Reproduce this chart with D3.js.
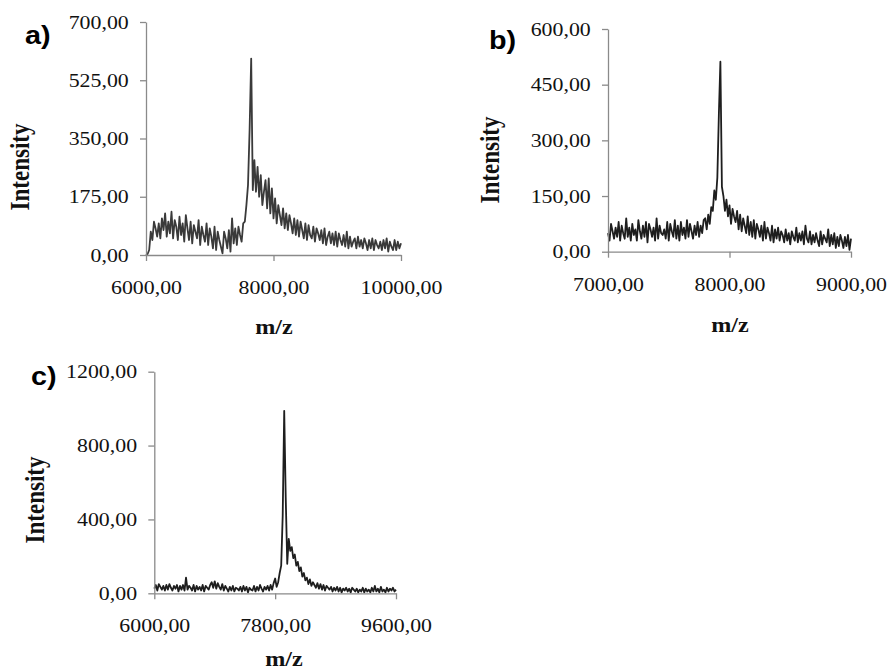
<!DOCTYPE html>
<html>
<head>
<meta charset="utf-8">
<script src="https://cdn.jsdelivr.net/npm/d3@7"></script>
<style>
  body { margin: 0; background: #fff; }
  svg { display: block; }
</style>
</head>
<body>
<div id="chart"></div>
<script>
// ---- data ----

// a) 6000 - 10000 m/z, sampled every 25
const mzStartA = 6000, mzStepA = 25;
const intensityA = [
  0, 3, 15, 70, 45, 100, 80, 55,
  95, 50, 110, 75, 125, 55, 100, 65,
  130, 50, 105, 85, 45, 115, 60, 95,
  40, 120, 80, 45, 100, 35, 90, 70,
  50, 105, 30, 85, 60, 40, 95, 30,
  80, 55, 20, 85, 15, 70, 45, 25,
  5, 70, 50, 20, 75, 10, 110, 35,
  80, 30, 85, 60, 40, 95, 100, 150,
  210, 375, 590, 195, 285, 190, 265, 175,
  240, 150, 190, 225, 140, 230, 125, 200,
  110, 170, 95, 150, 120, 90, 140, 80,
  125, 75, 120, 95, 65, 110, 60, 105,
  55, 100, 75, 50, 95, 45, 90, 60,
  50, 85, 40, 80, 65, 45, 75, 35,
  80, 30, 55, 70, 35, 65, 30, 70,
  25, 65, 45, 30, 60, 25, 70, 20,
  55, 25, 40, 50, 20, 55, 25, 45,
  20, 50, 35, 15, 45, 20, 50, 15,
  45, 30, 20, 40, 15, 45, 20, 50,
  10, 40, 25, 15, 45, 15, 40, 20,
  35
];
const xTicksA = [6000, 8000, 10000];
const yTicksA = [0, 175, 350, 525, 700];

// b) 7000 - 9000 m/z, sampled every 12.5
const mzStartB = 7000, mzStepB = 12.5;
const intensityB = [
  50, 30, 75, 55, 35, 65, 40, 80,
  30, 70, 50, 35, 90, 40, 65, 30,
  75, 45, 60, 30, 85, 55, 35, 70,
  40, 80, 25, 75, 60, 40, 65, 30,
  90, 35, 70, 50, 45, 60, 35, 80,
  30, 75, 55, 40, 85, 35, 70, 30,
  80, 45, 65, 35, 85, 40, 75, 55,
  35, 70, 45, 80, 40, 70, 50, 85,
  90, 60, 100, 75, 120, 110, 165, 140,
  200, 370, 512, 175, 150, 110, 140, 95,
  125, 75, 115, 95, 80, 110, 60, 100,
  55, 90, 70, 50, 95, 45, 80, 40,
  85, 35, 75, 60, 40, 70, 30, 80,
  35, 65, 50, 30, 70, 25, 60, 35,
  65, 30, 55, 45, 25, 60, 30, 50,
  20, 55, 40, 30, 65, 25, 50, 30,
  55, 20, 70, 35, 25, 55, 20, 45,
  25, 50, 30, 15, 55, 20, 45, 35,
  25, 60, 15, 45, 20, 50, 10, 40,
  15, 45, 30, 10, 40, 15, 45, 5,
  35
];
const xTicksB = [7000, 8000, 9000];
const yTicksB = [0, 150, 300, 450, 600];

// c) 6000 - 9600 m/z, sampled every 22.5
const mzStartC = 6000, mzStepC = 22.5;
const intensityC = [
  25, 45, 15, 50, 35, 20, 40, 15,
  45, 20, 50, 30, 15, 40, 25, 45,
  10, 40, 20, 45, 15, 85, 20, 40,
  30, 15, 45, 10, 40, 20, 35, 15,
  45, 10, 40, 30, 20, 45, 60, 30,
  65, 25, 55, 35, 20, 50, 15, 40,
  25, 10, 35, 15, 40, 10, 30, 25,
  15, 35, 10, 40, 15, 35, 5, 30,
  20, 15, 40, 10, 35, 15, 45, 25,
  10, 35, 20, 40, 15, 45, 20, 55,
  80, 35, 60, 110, 150, 420, 988, 520,
  160, 295, 230, 250, 190, 210, 150, 170,
  120, 140, 90, 110, 70, 85, 50, 75,
  40, 60, 45, 30, 55, 25, 50, 20,
  45, 15, 40, 30, 20, 35, 10, 30,
  15, 35, 10, 30, 5, 25, 15, 30,
  10, 25, 5, 30, 20, 10, 25, 5,
  20, 10, 30, 5, 25, 10, 20, 5,
  30, 10, 40, 10, 25, 5, 35, 10,
  20, 5, 30, 10, 25, 15, 30, 10,
  20
];
const xTicksC = [6000, 7800, 9600];
const yTicksC = [0, 400, 800, 1200];

// ---- layout ----
const WIDTH = 891, HEIGHT = 671;
const STRETCH = 1.15; // the source figure is a bit wider than tall
const SERIF = "'Liberation Serif', 'Times New Roman', serif";
const SANS = "'Liberation Sans', Arial, sans-serif";

const panels = [
  { tag: "a)", start: mzStartA, step: mzStepA, values: intensityA, xTicks: xTicksA, yTicks: yTicksA,
    left: 146, right: 401, top: 22, bottom: 255, color: "#3a3a3a",
    tagX: 25, tagY: 43.5, yTitleX: 29, yTitleY: 167, xTitleX: 274, xTitleY: 334 },
  { tag: "b)", start: mzStartB, step: mzStepB, values: intensityB, xTicks: xTicksB, yTicks: yTicksB,
    left: 608, right: 851, top: 29, bottom: 251.7, color: "#1e1e1e",
    tagX: 489, tagY: 48.5, yTitleX: 499, yTitleY: 160, xTitleX: 730, xTitleY: 332 },
  { tag: "c)", start: mzStartC, step: mzStepC, values: intensityC, xTicks: xTicksC, yTicks: yTicksC,
    left: 154.3, right: 396, top: 371.7, bottom: 593.3, color: "#1e1e1e",
    tagX: 31, tagY: 384.5, yTitleX: 44, yTitleY: 500, xTitleX: 284, xTitleY: 666 }
];

const fmt = d3.formatLocale({ decimal: ",", thousands: ".", grouping: [3], currency: ["", ""] }).format(".2f");

let svg = d3.select("#chart").append("svg")
  .attr("width", WIDTH)
  .attr("height", HEIGHT);

svg.append("rect")
  .attr("width", WIDTH)
  .attr("height", HEIGHT)
  .attr("fill", "#fff");

panels.forEach(p => drawPanel(p));

function drawPanel(p) {
  let x = d3.scaleLinear()
    .domain([p.xTicks[0], p.xTicks[p.xTicks.length - 1]])
    .range([p.left, p.right]);

  let y = d3.scaleLinear()
    .domain([0, p.yTicks[p.yTicks.length - 1]])
    .range([p.bottom, p.top]);

  let points = p.values.map((v, i) => [p.start + i * p.step, v]);

  let g = svg.append("g");

  // spectrum trace
  let line = d3.line()
    .x(d => x(d[0]))
    .y(d => y(d[1]));

  g.append("path")
    .datum(points)
    .attr("d", line)
    .attr("fill", "none")
    .attr("stroke", p.color)
    .attr("stroke-width", 1.8)
    .attr("stroke-linejoin", "round");

  // axes
  let yAxis = g.append("g")
    .attr("transform", `translate(${p.left},0)`)
    .call(d3.axisLeft(y).tickValues(p.yTicks).tickFormat(fmt).tickSize(6).tickSizeOuter(0).tickPadding(9));

  let xAxis = g.append("g")
    .attr("transform", `translate(0,${p.bottom})`)
    .call(d3.axisBottom(x).tickValues(p.xTicks).tickFormat(fmt).tickSize(6).tickSizeOuter(0).tickPadding(19.5));

  [yAxis, xAxis].forEach(ax => {
    ax.select(".domain").attr("stroke", "#8a8a8a").attr("stroke-width", 1.3);
    ax.selectAll(".tick line").attr("stroke", "#8a8a8a").attr("stroke-width", 1.3);
    ax.selectAll(".tick text")
      .attr("fill", "#111")
      .attr("transform", `scale(${STRETCH},1)`)
      .style("font-family", SERIF)
      .style("font-size", "19px");
  });

  // axis titles
  g.append("text")
    .attr("transform", `translate(${p.yTitleX},${p.yTitleY}) scale(${STRETCH},1) rotate(-90)`)
    .attr("text-anchor", "middle")
    .attr("fill", "#111")
    .style("font-family", SERIF)
    .style("font-weight", "bold")
    .style("font-size", "23px")
    .text("Intensity");

  g.append("text")
    .attr("transform", `translate(${p.xTitleX},${p.xTitleY}) scale(${STRETCH},1)`)
    .attr("text-anchor", "middle")
    .attr("fill", "#111")
    .style("font-family", SERIF)
    .style("font-weight", "bold")
    .style("font-size", "21px")
    .text("m/z");

  // panel letter
  g.append("text")
    .attr("transform", `translate(${p.tagX},${p.tagY}) scale(${STRETCH},1)`)
    .attr("fill", "#000")
    .style("font-family", SANS)
    .style("font-weight", "bold")
    .style("font-size", "25px")
    .text(p.tag);
}
</script>
</body>
</html>
